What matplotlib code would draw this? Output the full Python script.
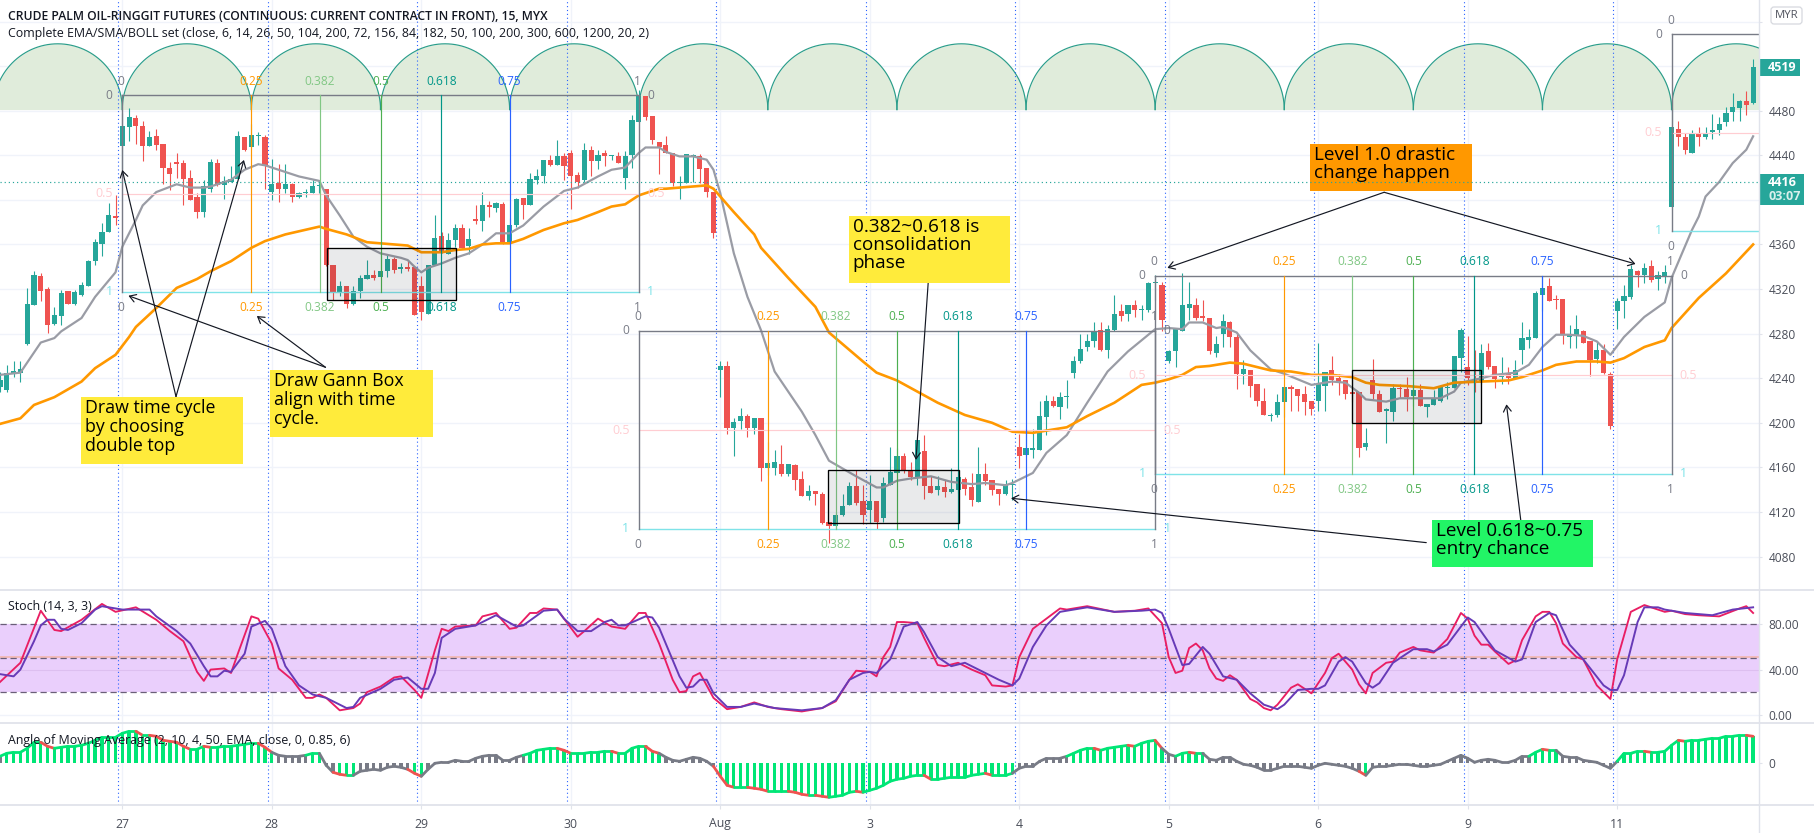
import numpy as np
import matplotlib
matplotlib.use("Agg")
import matplotlib.pyplot as plt
from matplotlib.patches import Rectangle, FancyBboxPatch
from matplotlib.collections import LineCollection

plt.rcParams['font.family'] = ['Open Sans', 'DejaVu Sans']

# ---------- DATA ----------
opens = [4232,4229,4245,4245,4271,4306,4332,4320,4289,4296,
4318,4307,4315,4323,4345,4360,4371,4385,4448,4465,
4473,4466,4448,4457,4450,4429,4434,4433,4420,4403,
4389,4410,4433,4413,4416,4419,4456,4447,4457,4456,
4407,4415,4410,4414,4403,4406,4406,4412,4410,4342,
4316,4323,4307,4318,4329,4333,4331,4336,4347,4338,
4340,4340,4323,4298,4342,4368,4351,4364,4375,4359,
4383,4381,4395,4393,4396,4362,4377,4402,4395,4418,
4421,4436,4431,4439,4442,4422,4418,4445,4435,4442,
4439,4439,4420,4440,4470,4493,4475,4452,4449,4442,
4415,4415,4439,4439,4429,4407,4247,4251,4195,4202,
4206,4195,4204,4159,4159,4163,4154,4162,4150,4134,
4139,4136,4111,4107,4117,4126,4143,4130,4122,4130,
4115,4144,4155,4170,4158,4151,4175,4143,4140,4142,
4138,4140,4150,4142,4129,4154,4149,4141,4136,4144,
4178,4171,4176,4176,4205,4220,4214,4223,4245,4255,
4268,4273,4283,4265,4283,4300,4298,4306,4301,4301,
4325,4324,4255,4264,4282,4303,4306,4295,4294,4263,
4280,4290,4277,4244,4247,4235,4220,4206,4207,4219,
4232,4230,4226,4220,4220,4233,4247,4240,4238,4228,
4228,4178,4238,4226,4211,4210,4231,4230,4224,4229,
4214,4216,4220,4231,4231,4258,4250,4238,4237,4264,
4251,4241,4244,4239,4265,4274,4276,4315,4323,4311,
4311,4277,4279,4282,4273,4257,4265,4244,4300,4309,
4313,4336,4333,4341,4329,4331,4394,4464,4456,4442,
4460,4456,4461,4463,4470,4479,4482,4489,4487]
highs = [4246,4252,4255,4255,4321,4336,4334,4322,4304,4319,
4318,4319,4326,4346,4365,4379,4397,4404,4478,4482,
4476,4471,4462,4464,4450,4434,4442,4436,4427,4406,
4418,4437,4437,4421,4430,4462,4456,4468,4461,4458,
4437,4432,4432,4415,4407,4410,4418,4418,4410,4342,
4327,4323,4323,4333,4346,4337,4352,4351,4349,4343,
4346,4340,4332,4342,4386,4371,4370,4378,4378,4375,
4395,4407,4399,4398,4398,4384,4402,4402,4424,4428,
4436,4440,4454,4442,4445,4425,4451,4448,4445,4445,
4440,4443,4444,4476,4499,4493,4475,4452,4457,4442,
4421,4441,4441,4441,4429,4407,4255,4255,4204,4213,
4208,4204,4204,4183,4176,4180,4163,4163,4157,4144,
4139,4138,4111,4120,4136,4147,4158,4144,4153,4130,
4151,4178,4177,4173,4165,4185,4189,4152,4152,4149,
4159,4152,4151,4155,4178,4164,4149,4141,4149,4150,
4190,4194,4194,4220,4225,4224,4228,4238,4260,4280,
4280,4290,4290,4288,4315,4307,4306,4310,4306,4326,
4333,4326,4265,4284,4334,4326,4312,4310,4294,4278,
4298,4291,4280,4256,4247,4235,4231,4209,4226,4232,
4234,4230,4233,4220,4272,4246,4260,4244,4238,4228,
4228,4195,4257,4229,4213,4235,4235,4241,4235,4235,
4217,4229,4234,4237,4260,4285,4278,4265,4271,4272,
4251,4259,4250,4256,4290,4284,4318,4331,4330,4315,
4311,4288,4297,4283,4273,4273,4271,4246,4312,4324,
4342,4337,4343,4346,4336,4342,4482,4471,4460,4463,
4465,4465,4477,4474,4483,4496,4490,4498,4526]
lows = [4228,4228,4241,4237,4270,4306,4309,4281,4288,4288,
4307,4306,4314,4323,4342,4350,4371,4377,4428,4453,
4450,4435,4448,4445,4414,4409,4420,4395,4400,4384,
4385,4407,4412,4401,4416,4419,4444,4447,4449,4410,
4400,4398,4406,4398,4402,4403,4406,4406,4341,4310,
4314,4303,4306,4312,4329,4328,4331,4331,4334,4334,
4336,4297,4292,4298,4342,4352,4351,4358,4357,4351,
4378,4372,4385,4389,4360,4361,4376,4383,4395,4414,
4415,4430,4431,4418,4392,4411,4416,4421,4428,4430,
4436,4433,4410,4429,4470,4472,4450,4423,4442,4412,
4401,4415,4416,4415,4403,4366,4223,4190,4170,4194,
4187,4190,4148,4153,4153,4152,4152,4140,4134,4131,
4126,4109,4092,4105,4116,4126,4126,4109,4110,4105,
4111,4144,4155,4155,4149,4144,4132,4137,4135,4133,
4137,4137,4135,4125,4129,4144,4135,4126,4135,4131,
4159,4170,4168,4176,4189,4214,4203,4213,4240,4254,
4264,4268,4264,4258,4282,4291,4291,4295,4292,4299,
4310,4282,4254,4250,4282,4292,4292,4291,4262,4259,
4268,4268,4230,4235,4223,4215,4207,4202,4205,4205,
4211,4211,4207,4207,4211,4211,4234,4225,4221,4219,
4169,4176,4221,4210,4182,4202,4222,4211,4215,4215,
4205,4216,4219,4221,4231,4246,4234,4228,4235,4248,
4231,4235,4235,4239,4253,4267,4276,4300,4309,4302,
4271,4267,4267,4272,4242,4254,4244,4194,4284,4294,
4311,4322,4325,4326,4319,4325,4394,4448,4441,4442,
4448,4455,4455,4458,4466,4471,4471,4476,4486]
closes = [4238,4245,4246,4248,4307,4333,4318,4288,4297,4316,
4307,4317,4324,4345,4362,4371,4386,4384,4466,4474,
4466,4448,4456,4449,4429,4423,4432,4419,4400,4389,
4412,4434,4413,4417,4419,4457,4445,4458,4457,4430,
4414,4410,4414,4403,4406,4407,4412,4413,4342,4317,
4323,4307,4318,4330,4333,4330,4336,4347,4337,4340,
4338,4297,4299,4342,4366,4353,4364,4375,4357,4365,
4381,4395,4394,4397,4361,4377,4401,4395,4419,4421,
4436,4431,4439,4430,4421,4416,4445,4435,4440,4439,
4440,4433,4439,4472,4493,4474,4454,4447,4442,4415,
4416,4441,4439,4428,4407,4370,4251,4195,4201,4206,
4195,4204,4159,4164,4165,4154,4163,4149,4134,4139,
4136,4110,4107,4117,4125,4143,4128,4117,4130,4111,
4146,4156,4170,4157,4151,4185,4143,4137,4143,4138,
4141,4151,4141,4131,4154,4148,4140,4136,4145,4145,
4170,4177,4176,4206,4220,4215,4223,4224,4255,4266,
4273,4282,4265,4284,4298,4296,4306,4301,4301,4325,
4325,4292,4264,4284,4306,4307,4294,4294,4264,4271,
4291,4277,4244,4248,4233,4220,4207,4206,4219,4232,
4230,4224,4219,4212,4236,4246,4238,4236,4226,4226,
4177,4182,4226,4210,4212,4231,4230,4223,4229,4215,
4217,4221,4232,4232,4260,4283,4240,4236,4263,4250,
4239,4244,4240,4247,4276,4277,4316,4321,4309,4310,
4279,4279,4284,4272,4256,4265,4245,4197,4309,4314,
4338,4333,4339,4328,4333,4335,4465,4456,4445,4460,
4456,4460,4463,4468,4478,4483,4489,4485,4519]

gray_ma = [(0,4243),(3,4245),(6,4272),(8,4276),(9,4282),(12,4294),(14,4313),(17,4335),(18,4358),(20,4382),
(21,4395),(23,4407),(26,4414),(28,4411),(30,4411),(31,4412),(34,4418),(36,4427),(38,4432),(39,4431),
(42,4425),(44,4421),(47,4417),(48,4404),(50,4386),(52,4367),(54,4358),(56,4352),(59,4348),(60,4346),
(61,4340),(62,4335),(63,4339),(65,4343),(67,4348),(69,4352),(71,4360),(73,4370),(75,4370),(77,4377),
(80,4394),(83,4408),(85,4411),(88,4421),(90,4427),(92,4429),(94,4442),(95,4447),(97,4447),(98,4443),
(100,4439),(102,4439),(104,4436),(105,4427),(106,4406),(108,4352),(110,4313),(112,4283),(114,4246),(116,4228),
(118,4210),(120,4189),(122,4166),(124,4159),(126,4152),(129,4142),(130,4142),(132,4148),(134,4150),(137,4152),
(140,4147),(143,4145),(145,4146),(148,4144),(149,4146),(152,4155),(154,4173),(157,4189),(160,4218),(163,4246),
(166,4264),(168,4274),(170,4284),(172,4285),(174,4284),(175,4290),(177,4290),(179,4285),(180,4286),(182,4281),
(184,4265),(187,4248),(189,4244),(193,4234),(196,4237),(198,4236),(200,4227),(201,4221),(204,4219),(206,4222),
(209,4222),(212,4222),(214,4228),(215,4236),(218,4240),(220,4243),(223,4245),(225,4252),(227,4268),(229,4279),
(231,4279),(233,4278),(235,4273),(237,4261),(239,4277),(242,4295),(245,4308),(246,4330),(249,4373),(250,4385),
(251,4403),(253,4416),(255,4433),(257,4445),(258,4457)]

orange_ma = [(0,4199),(3,4204),(5,4216),(8,4223),(12,4237),(14,4249),(17,4261),(19,4277),(20,4286),(23,4303),
(26,4321),(29,4329),(31,4336),(34,4345),(37,4357),(39,4363),(42,4369),(47,4376),(48,4374),(51,4369),
(54,4362),(60,4359),(62,4353),(65,4353),(67,4355),(69,4356),(71,4360),(73,4361),(75,4361),(77,4365),
(80,4373),(83,4379),(85,4382),(88,4389),(90,4394),(92,4396),(94,4404),(97,4410),(98,4410),(100,4411),
(102,4412),(104,4413),(105,4410),(108,4389),(111,4369),(112,4357),(116,4330),(120,4304),(122,4281),(127,4255),
(129,4245),(132,4238),(135,4228),(138,4218),(142,4207),(146,4200),(149,4192),(152,4191),(154,4193),(157,4196),
(160,4206),(164,4218),(168,4234),(170,4236),(172,4239),(174,4243),(176,4250),(178,4251),(181,4254),(183,4253),
(187,4247),(190,4246),(193,4243),(196,4243),(199,4241),(201,4236),(203,4234),(207,4233),(211,4231),(214,4236),
(218,4237),(222,4238),(224,4241),(227,4247),(229,4252),(232,4255),(235,4255),(237,4254),(239,4258),(242,4268),
(245,4274),(246,4285),(250,4312),(254,4334),(258,4360)]

stoch_k = [(0,29),(3,46),(6,92),(8,75),(9,74),(12,84),(15,98),(17,91),(20,95),(23,84),(25,74),(27,65),(29,38),(30,30),
(31,40),(33,41),(34,37),(35,54),(37,87),(38,85),(40,63),(41,41),(43,31),(45,15),(46,15),(47,18),(48,15),(50,4),(52,6),
(53,10),(54,20),(56,25),(58,33),(59,34),(61,22),(62,15),(64,57),(65,76),(66,74),(67,78),(70,79),(71,87),(73,90),(75,76),
(76,77),(78,90),(79,90),(80,94),(82,93),(85,69),(86,74),(88,85),(90,78),(92,76),(94,90),(95,90),(97,63),(99,31),(100,20),
(101,21),(102,34),(103,37),(105,15),(107,5),(109,7),(111,11),(113,7),(115,5),(118,3),(121,6),(123,12),(125,31),(126,39),
(128,38),(129,34),(130,51),(131,60),(132,82),(133,82),(135,81),(136,68),(138,44),(139,43),(141,46),(143,40),(145,35),
(146,26),(148,25),(149,26),(150,51),(152,76),(154,85),(156,94),(157,93),(160,96),(164,91),(167,92),(169,94),(171,81),
(172,51),(173,37),(174,39),(175,59),(176,63),(177,57),(178,41),(179,32),(180,30),(181,35),(182,31),(184,14),(185,11),
(186,6),(187,4),(188,9),(190,24),(191,27),(193,19),(195,37),(196,50),(197,54),(199,40),(200,27),(201,19),(202,37),(204,46),
(205,47),(206,55),(208,60),(209,57),(211,55),(213,67),(215,90),(216,85),(217,70),(218,62),(219,62),(220,56),(222,45),
(223,48),(224,66),(226,87),(227,91),(228,91),(229,81),(230,63),(232,51),(233,49),(235,26),(237,14),(238,49),(240,91),
(242,97),(245,91),(246,92),(248,89),(250,88),(253,87),(256,94),(257,96),(258,90)]

stoch_d = [(0,36),(2,34),(3,40),(5,65),(6,79),(7,84),(8,84),(9,76),(10,75),(12,81),(14,93),(15,96),(18,93),(22,93),(23,87),
(26,74),(28,63),(30,43),(31,34),(32,34),(33,39),(34,38),(36,54),(37,78),(39,83),(40,76),(42,43),(44,26),(46,18),(48,15),
(51,6),(52,7),(53,15),(56,23),(58,31),(60,33),(62,23),(63,23),(64,37),(65,68),(67,76),(70,79),(73,88),(76,78),(77,79),
(80,92),(82,93),(83,85),(85,74),(87,74),(89,82),(90,84),(91,79),(92,79),(95,87),(96,86),(97,77),(100,34),(101,24),(102,25),
(103,31),(104,31),(105,19),(107,7),(109,7),(111,10),(114,6),(118,4),(121,6),(123,13),(125,31),(127,37),(128,38),(129,37),
(131,49),(132,63),(133,78),(135,82),(136,73),(138,51),(140,43),(142,46),(145,37),(147,31),(149,26),(150,32),(152,60),
(154,79),(156,91),(158,93),(160,95),(164,91),(168,92),(170,93),(171,90),(172,76),(174,44),(175,45),(177,60),(178,54),
(180,34),(182,31),(184,19),(186,9),(188,5),(189,9),(191,22),(193,23),(194,23),(195,26),(197,47),(198,51),(199,47),(201,28),
(202,24),(203,28),(205,46),(208,58),(210,58),(211,56),(213,62),(216,86),(217,82),(219,65),(220,57),(223,47),(224,49),
(226,82),(228,90),(229,88),(231,62),(233,49),(236,26),(237,22),(238,22),(239,35),(241,82),(242,95),(244,95),(245,93),
(248,90),(252,88),(255,93),(258,95)]

angle_values = [7,10,11,11,15,21,21,17,15,16,
17,17,18,20,23,26,26,26,30,32,
32,28,28,27,23,22,21,17,14,14,
17,16,16,17,17,18,19,20,20,16,
11,8,7,7,7,8,10,10,-2,-9,
-11,-12,-12,-8,-7,-6,-7,-4,-3,-4,
-6,-10,-13,-6,0,1,1,3,2,2,
5,7,8,8,3,3,6,8,10,13,
14,15,15,13,10,10,10,11,11,12,
12,10,10,15,17,17,12,10,6,3,
2,4,6,5,2,-3,-13,-22,-24,-24,
-24,-25,-26,-28,-28,-28,-28,-29,-31,-32,
-32,-33,-34,-33,-32,-29,-28,-29,-27,-25,
-22,-18,-16,-15,-13,-12,-12,-16,-16,-15,
-14,-14,-14,-12,-11,-10,-12,-12,-12,-10,
-5,-3,-3,2,5,5,5,7,10,13,
15,15,13,15,16,17,18,17,20,22,
23,15,9,7,10,11,10,10,4,3,
6,6,2,-1,-2,-4,-7,-7,-5,-3,
-3,-3,-4,-5,-2,0,-1,-2,-3,-5,
-8,-12,-4,-3,-3,-2,-1,-1,-2,-3,
-3,-2,-1,2,5,8,5,1,3,4,
3,1,1,3,7,7,11,14,13,13,
7,6,6,3,2,1,-2,-5,2,10,
10,12,12,11,11,12,18,23,22,23,
23,24,25,25,27,27,28,28,27]

day_bars = [18,40,62,84,106,128,150,172,194,216,238]
day_labels = ['27','28','29','30','Aug','3','4','5','6','9','11']
price_ticks = list(range(4080, 4561, 40))
hidden_price_labels = [4400, 4520, 4560]   # covered by the price badges in the reference
stoch_ticks = [0, 40, 80]
stoch_tick_labels = ['0.00', '40.00', '80.00']

# Gann boxes: (left bar, right bar, top price, bottom price)
gann_boxes = [(18,94,4493.8,4316.9),(94,170,4282.4,4104.5),(170,246,4331.7,4153.9),(246,322,4548.5,4372)]
gann_levels = [0.25,0.382,0.5,0.618,0.75]
consolidation_boxes = [(48.1,67.1,4357,4310),(121.9,141.1,4157.4,4110),(199,218,4247,4199.5)]
cycle_start, cycle_len = 18, 19
cycle_base, cycle_top = 4481, 4540
last_price, countdown_price = 4519, 4416

# callouts: text, colour, font size, (left bar, right bar, top price, bottom price)
callouts = [
 ('Draw time cycle\nby choosing\ndouble top', '#FFEB3B', 12.8, (11.9,35.7,4223.2,4163.4)),
 ('Draw Gann Box\nalign with time\ncycle.', '#FFEB3B', 12.8, (39.8,63.7,4247.4,4187.6)),
 ('0.382~0.618 is\nconsolidation\nphase', '#FFEB3B', 13.6, (124.9,148.7,4385.5,4325.7)),
 ('Level 1.0 drastic\nchange happen', '#FF9800', 13.6, (192.8,216.6,4450.1,4408.2)),
 ('Level 0.618~0.75\nentry chance', '#22F566', 13.6, (210.7,234.5,4112.9,4071)),
]
arrows = [((25.9,4223.5),(18,4426.8)),((25.9,4223.5),(35.9,4435.8)),
          ((47.9,4249.8),(18.9,4314)),((47.9,4249.8),(37.8,4295.8)),
          ((136.6,4325.7),(134.8,4166.7)),
          ((203.7,4406.8),(171.8,4339)),((203.7,4406.8),(240.7,4342.5)),
          ((209.9,4092.5),(148.8,4132.3)),((223.8,4112.9),(221.7,4216.6))]

# ---------- LAYOUT ----------
W, H = 1814, 833
AX_R = 1758.7
P1, P2, P3 = 590, 723, 805
GRID = '#F0F3FA'; SEP = '#E0E3EB'; TXT = '#131722'; TICK = '#4A4E59'
UP = '#26A69A'; DOWN = '#EF5350'
XLIM = (0, AX_R / 6.795)

fig = plt.figure(figsize=(W/100, H/100), dpi=100, facecolor='white')
def pane(top, bottom):
    a = fig.add_axes([0, 1-bottom/H, AX_R/W, (bottom-top)/H])
    for s in a.spines.values():
        s.set_visible(False)
    a.set_xlim(*XLIM)
    a.yaxis.tick_right()
    a.tick_params(axis='y', length=2.5, width=0.8, color=SEP, labelcolor=TICK, labelsize=8.6, pad=4.5)
    a.set_axisbelow(True)
    a.set_xticks(day_bars)
    a.tick_params(axis='x', length=0, labelbottom=False)
    a.grid(True, color=GRID, lw=1.0)
    return a
ax = pane(0, P1); ax_s = pane(P1, P2); ax_a = pane(P2, P3)
ax.set_ylim(4050, 4579.3)
ax.set_yticks(price_ticks)
ax.set_yticklabels(['' if p in hidden_price_labels else str(p) for p in price_ticks])
ax_s.set_ylim(-7.2, 110.3)
ax_s.set_yticks(stoch_ticks); ax_s.set_yticklabels(stoch_tick_labels)
ax_a.set_ylim(-41.7, 40.3)
ax_a.set_yticks([0]); ax_a.set_yticklabels(['0'])
ax_a.grid(False, axis='y')
ax_a.tick_params(axis='x', length=3, width=0.8, color=SEP, labelbottom=True, labelcolor=TICK, labelsize=8.8, pad=6)
ax_a.set_xticklabels(day_labels)

# day dotted lines
for a in (ax, ax_s, ax_a):
    for d in day_bars:
        a.axvline(d-0.6, color='#2962FF', lw=0.8, ls=(0, (1, 2.5)), zorder=1.8)

# time cycles
for n in range(-1, 14):
    c = cycle_start + cycle_len*(n+0.5)
    t = np.linspace(0, np.pi, 181)
    xs = c + cycle_len/2*np.cos(t)
    ys = cycle_base + (cycle_top-cycle_base)*np.sin(t)
    ax.fill_between(xs, cycle_base, ys, color='#E0ECDB', lw=0, zorder=1.2)
    ax.plot(xs, ys, color='#2A9D8A', lw=0.85, zorder=1.3)

# candles
idx = np.arange(len(opens))
o, h_, l_, c_ = map(np.array, (opens, highs, lows, closes))
cols = np.where(c_ >= o, UP, DOWN)
ax.vlines(idx, l_, h_, colors=cols, lw=0.8, zorder=3)
hts = np.maximum(np.abs(c_-o), 1.4)
ax.bar(idx, hts, bottom=np.minimum(o, c_), width=0.76, color=cols, lw=0, zorder=3.1)

# moving averages
gx, gy = zip(*gray_ma); oxs, oy = zip(*orange_ma)
ax.plot(gx, gy, color='#9A9CA5', lw=1.6, zorder=3.5)
ax.plot(oxs, oy, color='#FF9800', lw=1.9, zorder=3.6)

# last-price line
ax.axhline(countdown_price, color=UP, lw=0.85, ls=(0, (1, 2.5)), zorder=6)

# Gann boxes
LV = {0:'#787B86',0.25:'#FF9800',0.382:'#81C784',0.5:'#4CAF50',0.618:'#009688',0.75:'#2962FF',1:'#787B86'}
CY='#7FE3E8'; PK='#FFCDD2'
def lab(x, y, s, col, dx, dy, size=8.6):
    ax.annotate(s, (x, y), xytext=(dx, dy), textcoords='offset pixels', ha='center', va='center',
                color=col, fontsize=size, zorder=5, annotation_clip=False)
for bi, (x0, x1, top, bot) in enumerate(gann_boxes):
    mid = (top+bot)/2
    xe = min(x1, XLIM[1])
    ax.plot([x0, xe], [top, top], color='#787B86', lw=1.0, zorder=4)
    ax.plot([x0, xe], [mid, mid], color=PK, lw=0.85, zorder=4)
    ax.plot([x0, xe], [bot, bot], color=CY, lw=1.0, zorder=4)
    ax.plot([x0, x0], [top, bot], color='#787B86', lw=1.0, zorder=4)
    if x1 < XLIM[1]:
        ax.plot([x1, x1], [top, bot], color='#787B86', lw=1.0, zorder=4)
    for f in gann_levels:
        xl = x0 + f*(x1-x0)
        if xl < XLIM[1]:
            ax.plot([xl, xl], [top, bot], color=LV[f], lw=0.85, zorder=4)
            lab(xl, top, str(f), LV[f], 0, 14)
            lab(xl, bot, str(f), LV[f], 0, -15)
    lab(x0, top, '0', LV[0], -1, 14); lab(x0, bot, '0', LV[0], -1, -15)
    lab(x0, top, '0', LV[0], -13, 0); lab(x0, mid, '0.5', PK, -18, 0, 9); lab(x0, bot, '1', CY, -13, 1, 9)
    if x1 < XLIM[1]:
        lab(x1, top, '1', LV[1], -1, 14); lab(x1, bot, '1', LV[1], -1, -15)
        lab(x1, top, '0', LV[0], 12, 0); lab(x1, mid, '0.5', PK, 17, 0, 9); lab(x1, bot, '1', CY, 12, 1, 9)

# consolidation rectangles
for x0, x1, top, bot in consolidation_boxes:
    ax.add_patch(Rectangle((x0, bot), x1-x0, top-bot, facecolor=TXT, alpha=0.09, lw=0, zorder=4.1))
    ax.add_patch(Rectangle((x0, bot), x1-x0, top-bot, fill=False, edgecolor='black', lw=0.95, zorder=4.2))

# arrows and callouts
for start, end in arrows:
    ax.annotate('', xy=end, xytext=start, zorder=4.6,
                arrowprops=dict(arrowstyle='->,head_length=0.45,head_width=0.28', color='#131722', lw=0.85,
                                shrinkA=0, shrinkB=0))
for text, col, fs, (x0, x1, top, bot) in callouts:
    ax.add_patch(Rectangle((x0, bot), x1-x0, top-bot, facecolor=col, lw=0, zorder=5))
    ax.annotate(text, (x0, top), xytext=(4, -2), textcoords='offset pixels', ha='left', va='top',
                fontsize=fs, color='black', linespacing=1.0 if fs > 13 else 1.08, zorder=7)

# stochastic
ax_s.axhspan(20, 80, color='#EACFFC', lw=0, zorder=1)
ax_s.axhline(40, color='#DDBFF0', lw=0.8, zorder=1.1)
ax_s.axhline(51, color='#F5B5A8', lw=1.1, zorder=1.5)
for v in (80, 50, 20):
    ax_s.axhline(v, color='#6A5F78', lw=0.9, ls=(0, (5, 3)), zorder=1.6)
kx, ky = zip(*stoch_k); dx_, dy_ = zip(*stoch_d)
ax_s.plot(kx, ky, color='#E91E63', lw=1.35, zorder=3)
ax_s.plot(dx_, dy_, color='#673AB7', lw=1.4, zorder=3.1)

# angle of MA
vals = np.array(angle_values, dtype=float)
is_green = np.abs(vals) > 9
GREEN = '#00E676'; GR = '#787B86'
ax_a.bar(idx, vals, width=0.48, color=np.where(is_green, GREEN, GR), lw=0, zorder=2)
segs = [[(i, vals[i]), (i+1, vals[i+1])] for i in range(len(vals)-1)]
seg_cols = [(GR if not is_green[i+1] else (DOWN if vals[i+1] < vals[i] else GREEN)) for i in range(len(vals)-1)]
ax_a.add_collection(LineCollection(segs, colors=seg_cols, linewidths=2.0, zorder=3, capstyle='round'))

# overlay: pane frames, titles, price badges
ov = fig.add_axes([0, 0, 1, 1], zorder=20)
ov.set_xlim(0, W); ov.set_ylim(H, 0); ov.axis('off'); ov.patch.set_alpha(0)
for y in (P1, P2, P3):
    ov.plot([0, W], [y, y], color=SEP, lw=1.3)
ov.plot([AX_R, AX_R], [0, H], color=SEP, lw=1.0)
ov.text(8, 16.5, 'CRUDE PALM OIL-RINGGIT FUTURES (CONTINUOUS: CURRENT CONTRACT IN FRONT), 15, MYX',
        fontsize=8.75, fontweight='semibold', color=TXT, va='center')
ov.text(8, 33.5, 'Complete EMA/SMA/BOLL set (close, 6, 14, 26, 50, 104, 200, 72, 156, 84, 182, 50, 100, 200, 300, 600, 1200, 20, 2)',
        fontsize=8.95, color=TXT, va='center')
ov.text(8, 607, 'Stoch (14, 3, 3)', fontsize=8.95, color=TXT, va='center')
ov.text(8, 740.5, 'Angle of Moving Average (2, 10, 4, 50, EMA, close, 0, 0.85, 6)', fontsize=8.95, color=TXT, va='center')

ov.add_patch(FancyBboxPatch((1772.5, 8.5), 28, 14, boxstyle='round,pad=1.5,rounding_size=3', facecolor='white',
                            edgecolor='#D6D8DF', lw=0.9))
ov.text(1786.5, 15.5, 'MYR', fontsize=8.2, color='#50535E', ha='center', va='center')
ax.add_patch(Rectangle((1.0, last_price-7.6), 41.5/AX_R, 15.2, transform=ax.get_yaxis_transform(),
                       facecolor=UP, lw=0, clip_on=False, zorder=10))
ax.annotate(str(last_price), (1.0, last_price), xycoords=ax.get_yaxis_transform(), xytext=(9.5, 0),
            textcoords='offset pixels', color='white', fontsize=9, fontweight='bold', va='center', zorder=11)
ax.add_patch(Rectangle((1.0, countdown_price-20.5), 45.5/AX_R, 27.5, transform=ax.get_yaxis_transform(),
                       facecolor=UP, lw=0, clip_on=False, zorder=10))
ax.annotate(str(countdown_price), (1.0, countdown_price), xycoords=ax.get_yaxis_transform(), xytext=(9.5, 0),
            textcoords='offset pixels', color='white', fontsize=9, fontweight='bold', va='center', zorder=11)
ax.annotate('03:07', (1.0, countdown_price), xycoords=ax.get_yaxis_transform(), xytext=(9.5, -14),
            textcoords='offset pixels', color='#D9F0EC', fontsize=9, fontweight='bold', va='center', zorder=11)

fig.savefig('out.png', dpi=100, facecolor='white')
